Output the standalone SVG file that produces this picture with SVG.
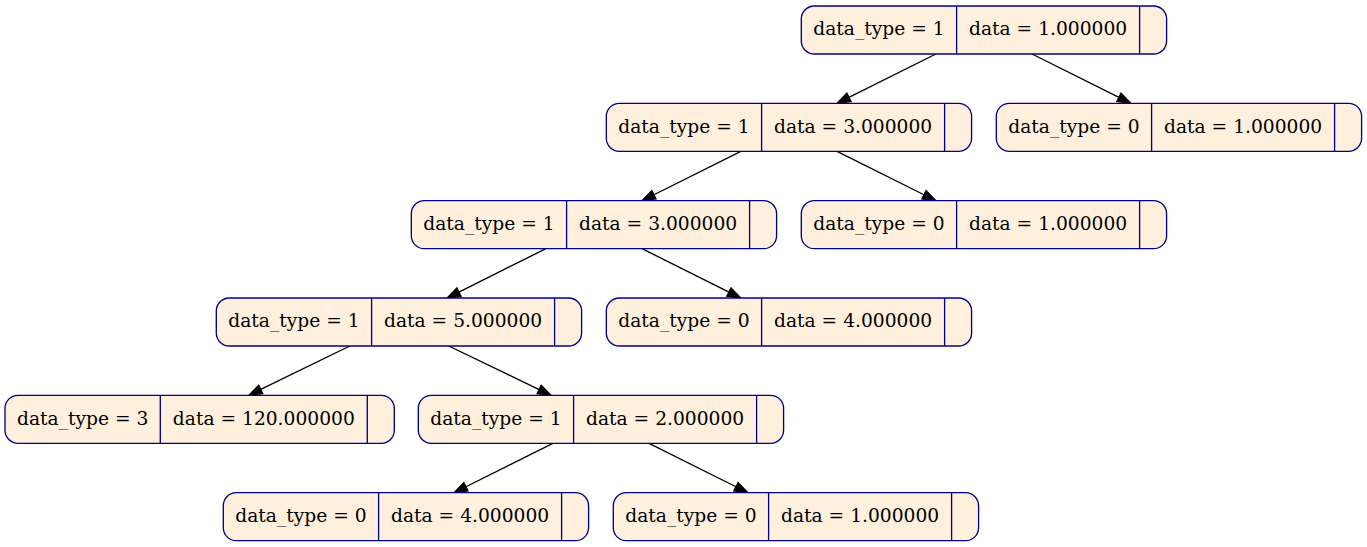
<svg xmlns="http://www.w3.org/2000/svg" width="1367" height="547" viewBox="0 0 1367 547">
<style>
.box{fill:#fff0dd;stroke:#00008b;stroke-width:1.33}
.div{stroke:#00008b;stroke-width:1.33}
.t{font-family:"DejaVu Serif","Liberation Serif",serif;font-size:18.67px;fill:#000;text-anchor:middle}
.e{stroke:#000;stroke-width:1.33;fill:none;marker-end:url(#arr)}
</style>
<defs>
<marker id="arr" markerUnits="userSpaceOnUse" markerWidth="16" markerHeight="12" refX="0" refY="0" orient="auto" viewBox="0 -6 16 12" overflow="visible">
<path d="M0,-4.67 L13.3,0 L0,4.67 z" fill="#000" stroke="#000" stroke-width="1.33"/>
</marker>
</defs>
<rect width="1367" height="547" fill="#fff"/>
<g id="edges">
<line class="e" x1="935.85" y1="54" x2="848.95" y2="97.36"/>
<line class="e" x1="1032.05" y1="54" x2="1118.95" y2="97.36"/>
<line class="e" x1="740.85" y1="151.3" x2="653.95" y2="194.76"/>
<line class="e" x1="837.05" y1="151.3" x2="923.95" y2="194.76"/>
<line class="e" x1="545.85" y1="248.7" x2="458.95" y2="292.06"/>
<line class="e" x1="642.05" y1="248.7" x2="728.95" y2="292.06"/>
<line class="e" x1="349.79" y1="346" x2="260.76" y2="389.47"/>
<line class="e" x1="448.78" y1="346" x2="539.14" y2="389.53"/>
<line class="e" x1="552.85" y1="443.3" x2="465.95" y2="486.76"/>
<line class="e" x1="649.05" y1="443.3" x2="735.95" y2="486.76"/>
</g>
<g id="n0" transform="translate(801.3,6)">
<rect class="box" width="365.3" height="48" rx="13" ry="13"/>
<line class="div" x1="155.3" y1="0" x2="155.3" y2="48"/>
<line class="div" x1="338.3" y1="0" x2="338.3" y2="48"/>
<text class="t" x="77.65" y="29.3">data_type = 1</text>
<text class="t" x="246.8" y="29.3">data = 1.000000</text>
</g>
<g id="n1" transform="translate(606.3,103.3)">
<rect class="box" width="365.3" height="48" rx="13" ry="13"/>
<line class="div" x1="155.3" y1="0" x2="155.3" y2="48"/>
<line class="div" x1="338.3" y1="0" x2="338.3" y2="48"/>
<text class="t" x="77.65" y="29.3">data_type = 1</text>
<text class="t" x="246.8" y="29.3">data = 3.000000</text>
</g>
<g id="n2" transform="translate(996.3,103.3)">
<rect class="box" width="365.3" height="48" rx="13" ry="13"/>
<line class="div" x1="155.3" y1="0" x2="155.3" y2="48"/>
<line class="div" x1="338.3" y1="0" x2="338.3" y2="48"/>
<text class="t" x="77.65" y="29.3">data_type = 0</text>
<text class="t" x="246.8" y="29.3">data = 1.000000</text>
</g>
<g id="n3" transform="translate(411.3,200.7)">
<rect class="box" width="365.3" height="48" rx="13" ry="13"/>
<line class="div" x1="155.3" y1="0" x2="155.3" y2="48"/>
<line class="div" x1="338.3" y1="0" x2="338.3" y2="48"/>
<text class="t" x="77.65" y="29.3">data_type = 1</text>
<text class="t" x="246.8" y="29.3">data = 3.000000</text>
</g>
<g id="n4" transform="translate(801.3,200.7)">
<rect class="box" width="365.3" height="48" rx="13" ry="13"/>
<line class="div" x1="155.3" y1="0" x2="155.3" y2="48"/>
<line class="div" x1="338.3" y1="0" x2="338.3" y2="48"/>
<text class="t" x="77.65" y="29.3">data_type = 0</text>
<text class="t" x="246.8" y="29.3">data = 1.000000</text>
</g>
<g id="n5" transform="translate(216.3,298)">
<rect class="box" width="365.3" height="48" rx="13" ry="13"/>
<line class="div" x1="155.3" y1="0" x2="155.3" y2="48"/>
<line class="div" x1="338.3" y1="0" x2="338.3" y2="48"/>
<text class="t" x="77.65" y="29.3">data_type = 1</text>
<text class="t" x="246.8" y="29.3">data = 5.000000</text>
</g>
<g id="n6" transform="translate(606.3,298)">
<rect class="box" width="365.3" height="48" rx="13" ry="13"/>
<line class="div" x1="155.3" y1="0" x2="155.3" y2="48"/>
<line class="div" x1="338.3" y1="0" x2="338.3" y2="48"/>
<text class="t" x="77.65" y="29.3">data_type = 0</text>
<text class="t" x="246.8" y="29.3">data = 4.000000</text>
</g>
<g id="n7" transform="translate(5,395.3)">
<rect class="box" width="389.3" height="48" rx="13" ry="13"/>
<line class="div" x1="155.3" y1="0" x2="155.3" y2="48"/>
<line class="div" x1="362.3" y1="0" x2="362.3" y2="48"/>
<text class="t" x="77.65" y="29.3">data_type = 3</text>
<text class="t" x="258.8" y="29.3">data = 120.000000</text>
</g>
<g id="n8" transform="translate(418.3,395.3)">
<rect class="box" width="365.3" height="48" rx="13" ry="13"/>
<line class="div" x1="155.3" y1="0" x2="155.3" y2="48"/>
<line class="div" x1="338.3" y1="0" x2="338.3" y2="48"/>
<text class="t" x="77.65" y="29.3">data_type = 1</text>
<text class="t" x="246.8" y="29.3">data = 2.000000</text>
</g>
<g id="n9" transform="translate(223.3,492.7)">
<rect class="box" width="365.3" height="48" rx="13" ry="13"/>
<line class="div" x1="155.3" y1="0" x2="155.3" y2="48"/>
<line class="div" x1="338.3" y1="0" x2="338.3" y2="48"/>
<text class="t" x="77.65" y="29.3">data_type = 0</text>
<text class="t" x="246.8" y="29.3">data = 4.000000</text>
</g>
<g id="n10" transform="translate(613.3,492.7)">
<rect class="box" width="365.3" height="48" rx="13" ry="13"/>
<line class="div" x1="155.3" y1="0" x2="155.3" y2="48"/>
<line class="div" x1="338.3" y1="0" x2="338.3" y2="48"/>
<text class="t" x="77.65" y="29.3">data_type = 0</text>
<text class="t" x="246.8" y="29.3">data = 1.000000</text>
</g>
</svg>
